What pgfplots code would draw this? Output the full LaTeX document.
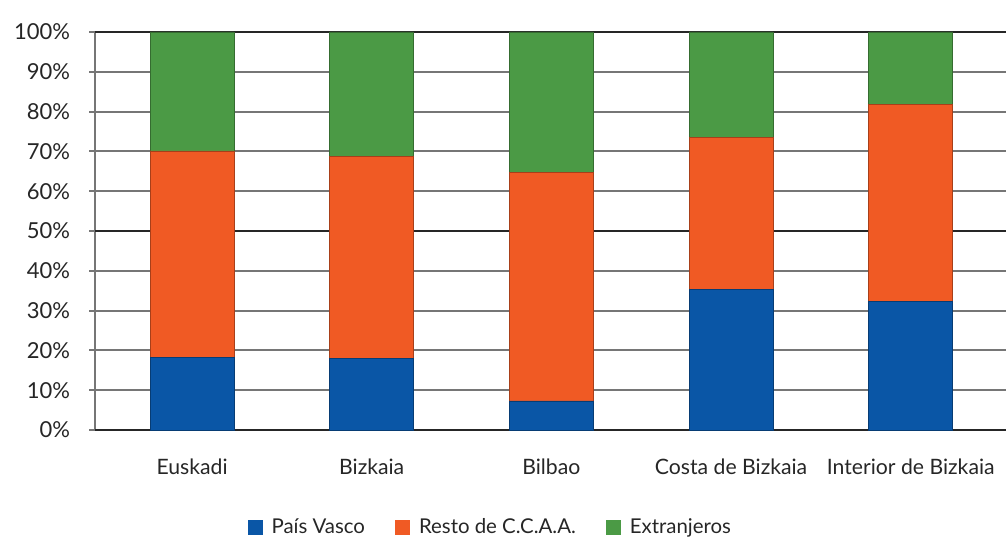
\documentclass[border=0pt]{standalone}
\usepackage{pgfplots}
\pgfplotsset{compat=1.18}
\usepackage{fontspec}
\setmainfont{Lato}
\definecolor{cblue}{HTML}{0A56A6}
\definecolor{corange}{HTML}{F05A24}
\definecolor{cgreen}{HTML}{4B9A45}
\definecolor{cgrid}{HTML}{767676}
\definecolor{cdark}{HTML}{262626}
\begin{document}
\begin{tikzpicture}
\begin{axis}[
  scale only axis, width=455.5pt, height=199pt,
  xmin=-0.54, xmax=4.53, ymin=0, ymax=100,
  ybar stacked, bar width=42pt,
  axis lines*=left,
  x axis line style={draw=none},
  y axis line style={cgrid, line width=1pt, -},
  ytick={0,10,...,100},
  /pgf/number format/assume math mode=true,
  yticklabel={\pgfmathprintnumber{\tick}\%},
  yticklabel style={font=\fontsize{11}{12}\selectfont, text=cdark, xshift=-6pt},
  ymajorgrids, grid style={cgrid, line width=1pt},
  extra y ticks={0,50,100}, extra y tick labels={},
  extra y tick style={grid style={cdark, line width=1.1pt}, y tick style={draw=none}},
  tick align=outside, major tick length=3pt,
  y tick style={cgrid, line width=1pt},
  xtick={0,1,2,3,4},
  xticklabels={Euskadi, Bizkaia, Bilbao, Costa de Bizkaia, Interior de Bizkaia},
  x tick style={draw=none},
  xticklabel style={font=\fontsize{10.6}{12}\selectfont, text=cdark, yshift=-8pt},
  legend columns=3,
  legend style={draw=none, fill=none, at={(0.435,-0.246)}, anchor=center,
    font=\fontsize{10.2}{12}\selectfont, text=cdark,
    /tikz/every even column/.append style={column sep=13pt}},
  legend image code/.code={\fill[#1, draw=none] (0pt,-3.75pt) rectangle (7.5pt,3.75pt); \path[draw=none, fill=none] (7.5pt,0pt) -- (10pt,0pt);},
  clip=false,
]
\addplot[fill=cblue, draw=cblue!70!black, line width=0.4pt] coordinates {(0,18.3) (1,18.0) (2,7.3) (3,35.2) (4,32.2)};
\addplot[fill=corange, draw=corange!70!black, line width=0.4pt] coordinates {(0,51.8) (1,50.8) (2,57.4) (3,38.4) (4,49.5)};
\addplot[fill=cgreen, draw=cgreen!70!black, line width=0.4pt] coordinates {(0,29.9) (1,31.2) (2,35.3) (3,26.4) (4,18.3)};
\legend{País Vasco, Resto de C.C.A.A., Extranjeros}
\coordinate (bl) at (axis description cs:-0.1043,-0.2764);
\coordinate (tr) at (axis description cs:1,1.0804);
\end{axis}
\pgfresetboundingbox
\path[use as bounding box] (bl) rectangle (tr);
\end{tikzpicture}
\end{document}
